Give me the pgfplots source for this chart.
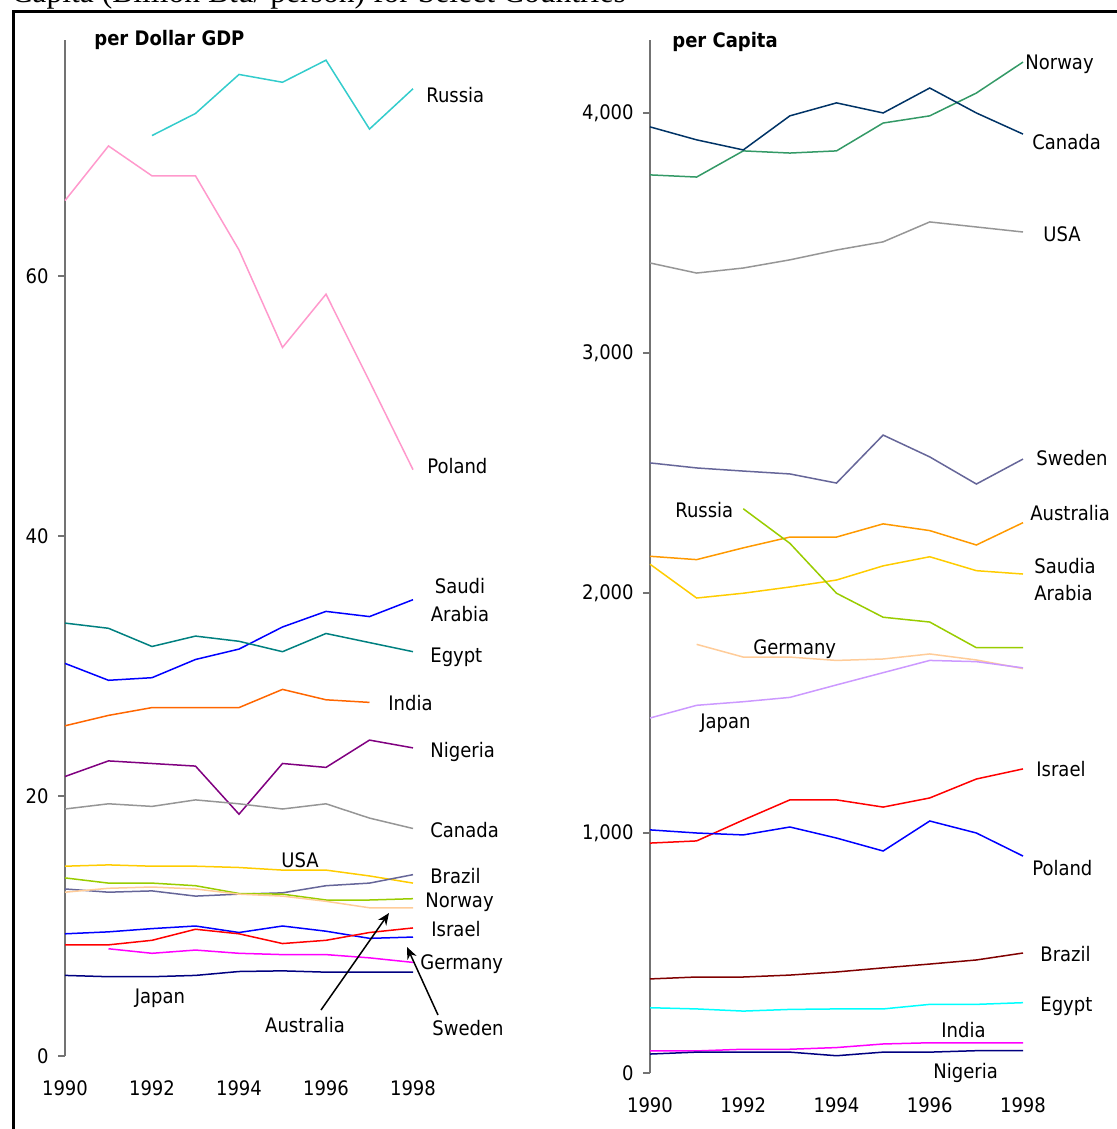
\documentclass[border=0pt]{standalone}
\usepackage{fontspec}
\setmainfont{DejaVu Sans Condensed}
\newfontfamily\ttl{Liberation Serif}
\usepackage{pgfplots}
\pgfplotsset{compat=1.18}
\usetikzlibrary{arrows.meta}

\definecolor{cCyan}{RGB}{0,255,255}
\definecolor{cMag}{RGB}{255,0,255}
\definecolor{cBlue}{RGB}{0,0,255}
\definecolor{cRed}{RGB}{255,0,0}

% 1 px of the reference = 0.5pt
\pgfplotsset{
  panel/.style={
    scale only axis, clip=false,
    xmin=1990, xmax=1998, ymin=0,
    axis lines*=left,
    x axis line style={draw=none},
    y axis line style={draw=black!55, line width=0.75pt},
    xtick={1990,1992,...,1998},
    xtick style={draw=none},
    ytick style={draw=black!55, line width=0.75pt},
    ytick align=outside, major tick length=3.5pt,
    x tick label style={anchor=base, yshift=-19.5pt, /pgf/number format/1000 sep={}},
    y tick label style={anchor=east, inner sep=0pt, xshift=-4.5pt},
    ticklabel style={font=\fontsize{10}{12}\selectfont},
    /pgf/number format/assume math mode=true,
    every axis plot/.append style={line width=0.75pt, mark=none},
  },
}
\tikzset{lab/.style={inner sep=0pt, text height=0.73em, text depth=0pt, font=\fontsize{10}{12}\selectfont}}

\begin{document}
\begin{tikzpicture}

% ---- per Dollar GDP ----
\begin{axis}[panel, at={(32.5pt,-528pt)}, anchor=origin,
  width=174pt, height=508pt, ymax=78.15, ytick={0,20,40,60}]
\addplot[color={rgb,255:red,51;green,204;blue,204}] coordinates {(1992,70.8)(1993,72.5)(1994,75.5)(1995,74.9)(1996,76.6)(1997,71.3)(1998,74.4)};
\addplot[color={rgb,255:red,255;green,153;blue,204}] coordinates {(1990,65.8)(1991,70.0)(1992,67.7)(1993,67.7)(1994,62.0)(1995,54.5)(1996,58.6)(1997,51.9)(1998,45.1)};
\addplot[color=cBlue] coordinates {(1990,30.2)(1991,28.9)(1992,29.1)(1993,30.5)(1994,31.3)(1995,33.0)(1996,34.2)(1997,33.8)(1998,35.1)};
\addplot[color={rgb,255:red,0;green,128;blue,128}] coordinates {(1990,33.3)(1991,32.9)(1992,31.5)(1993,32.3)(1994,31.9)(1995,31.1)(1996,32.5)(1997,31.8)(1998,31.1)};
\addplot[color={rgb,255:red,255;green,102;blue,0}] coordinates {(1990,25.4)(1991,26.2)(1992,26.8)(1993,26.8)(1994,26.8)(1995,28.2)(1996,27.4)(1997,27.2)};
\addplot[color={rgb,255:red,128;green,0;blue,128}] coordinates {(1990,21.5)(1991,22.7)(1992,22.5)(1993,22.3)(1994,18.6)(1995,22.5)(1996,22.2)(1997,24.3)(1998,23.7)};
\addplot[color={rgb,255:red,150;green,150;blue,150}] coordinates {(1990,19.0)(1991,19.4)(1992,19.2)(1993,19.7)(1994,19.4)(1995,19.0)(1996,19.4)(1997,18.3)(1998,17.5)};
\addplot[color={rgb,255:red,255;green,204;blue,0}] coordinates {(1990,14.6)(1991,14.7)(1992,14.6)(1993,14.6)(1994,14.5)(1995,14.3)(1996,14.3)(1997,13.85)(1998,13.3)};
\addplot[color={rgb,255:red,102;green,102;blue,153}] coordinates {(1990,12.85)(1991,12.6)(1992,12.7)(1993,12.3)(1994,12.45)(1995,12.55)(1996,13.1)(1997,13.3)(1998,13.95)};
\addplot[color={rgb,255:red,153;green,204;blue,0}] coordinates {(1990,13.7)(1991,13.3)(1992,13.3)(1993,13.1)(1994,12.5)(1995,12.45)(1996,12.0)(1997,12.0)(1998,12.1)};
\addplot[color={rgb,255:red,255;green,204;blue,153}] coordinates {(1990,12.6)(1991,12.9)(1992,13.0)(1993,12.85)(1994,12.45)(1995,12.3)(1996,11.9)(1997,11.4)(1998,11.4)};
\addplot[color=cBlue] coordinates {(1990,9.4)(1991,9.55)(1992,9.8)(1993,10.0)(1994,9.5)(1995,10.0)(1996,9.6)(1997,9.05)(1998,9.15)};
\addplot[color=cRed] coordinates {(1990,8.55)(1991,8.55)(1992,8.9)(1993,9.75)(1994,9.4)(1995,8.65)(1996,8.9)(1997,9.5)(1998,9.85)};
\addplot[color=cMag] coordinates {(1991,8.25)(1992,7.9)(1993,8.15)(1994,7.9)(1995,7.8)(1996,7.8)(1997,7.55)(1998,7.2)};
\addplot[color={rgb,255:red,0;green,0;blue,128}] coordinates {(1990,6.2)(1991,6.1)(1992,6.1)(1993,6.2)(1994,6.5)(1995,6.55)(1996,6.45)(1997,6.45)(1998,6.45)};
\end{axis}

% ---- per Capita ----
\begin{axis}[panel, at={(325pt,-536.5pt)}, anchor=origin,
  width=186.5pt, height=516.5pt, ymax=4304, ytick={0,1000,...,4000}]
\addplot[color={rgb,255:red,51;green,153;blue,102}] coordinates {(1990,3742)(1991,3733)(1992,3842)(1993,3833)(1994,3842)(1995,3958)(1996,3988)(1997,4083)(1998,4212)};
\addplot[color={rgb,255:red,0;green,51;blue,102}] coordinates {(1990,3942)(1991,3888)(1992,3846)(1993,3988)(1994,4042)(1995,4000)(1996,4104)(1997,4000)(1998,3912)};
\addplot[color={rgb,255:red,150;green,150;blue,150}] coordinates {(1990,3375)(1991,3333)(1992,3354)(1993,3388)(1994,3429)(1995,3463)(1996,3546)(1997,3525)(1998,3504)};
\addplot[color={rgb,255:red,102;green,102;blue,153}] coordinates {(1990,2542)(1991,2521)(1992,2508)(1993,2496)(1994,2458)(1995,2658)(1996,2567)(1997,2454)(1998,2558)};
\addplot[color={rgb,255:red,255;green,153;blue,0}] coordinates {(1990,2153)(1991,2139)(1992,2188)(1993,2233)(1994,2233)(1995,2288)(1996,2260)(1997,2200)(1998,2293)};
\addplot[color={rgb,255:red,255;green,204;blue,0}] coordinates {(1990,2120)(1991,1979)(1992,1999)(1993,2025)(1994,2054)(1995,2113)(1996,2151)(1997,2093)(1998,2079)};
\addplot[color={rgb,255:red,153;green,204;blue,0}] coordinates {(1992,2351)(1993,2207)(1994,1999)(1995,1899)(1996,1879)(1997,1772)(1998,1772)};
\addplot[color={rgb,255:red,255;green,204;blue,153}] coordinates {(1991,1786)(1992,1733)(1993,1733)(1994,1719)(1995,1725)(1996,1746)(1997,1721)(1998,1685)};
\addplot[color={rgb,255:red,204;green,153;blue,255}] coordinates {(1990,1479)(1991,1532)(1992,1547)(1993,1565)(1994,1617)(1995,1668)(1996,1719)(1997,1714)(1998,1688)};
\addplot[color=cRed] coordinates {(1990,958)(1991,967)(1992,1054)(1993,1138)(1994,1138)(1995,1108)(1996,1146)(1997,1225)(1998,1267)};
\addplot[color=cBlue] coordinates {(1990,1013)(1991,1000)(1992,992)(1993,1025)(1994,979)(1995,925)(1996,1050)(1997,1000)(1998,904)};
\addplot[color={rgb,255:red,128;green,0;blue,0}] coordinates {(1990,392)(1991,400)(1992,400)(1993,408)(1994,421)(1995,438)(1996,454)(1997,471)(1998,500)};
\addplot[color=cCyan] coordinates {(1990,272)(1991,267)(1992,258)(1993,265)(1994,267)(1995,267)(1996,286)(1997,286)(1998,293)};
\addplot[color=cMag] coordinates {(1990,92)(1991,92)(1992,99)(1993,99)(1994,106)(1995,121)(1996,126)(1997,126)(1998,126)};
\addplot[color={rgb,255:red,0;green,0;blue,128}] coordinates {(1990,79)(1991,87)(1992,87)(1993,87)(1994,72)(1995,87)(1996,87)(1997,93)(1998,93)};
\end{axis}

\begin{scope}[x=0.5pt, y=-0.5pt]
% frame and cut-off title
\draw[line width=1.5pt] (13,11.5) rectangle (1150,1150);
\node[anchor=base west, inner sep=0pt, font=\ttl\fontsize{15.8}{18}\selectfont] at (11,3) {Capita (Billion Btu/ person) for Select Countries};

% left panel labels
\node[lab, anchor=west, font=\bfseries\fontsize{10}{12}\selectfont] at (94,38) {per Dollar GDP};
\node[lab, anchor=west] at (426,95) {Russia};
\node[lab, anchor=west] at (427,466) {Poland};
\node[lab] at (460,586) {Saudi};
\node[lab] at (460,614) {Arabia};
\node[lab, anchor=west] at (430,655) {Egypt};
\node[lab, anchor=west] at (388,703) {India};
\node[lab, anchor=west] at (430,750) {Nigeria};
\node[lab, anchor=west] at (430,830) {Canada};
\node[lab] at (300,860) {USA};
\node[lab, anchor=west] at (430,876) {Brazil};
\node[lab, anchor=west] at (425,900) {Norway};
\node[lab, anchor=west] at (431,929) {Israel};
\node[lab, anchor=west] at (420,962) {Germany};
\node[lab] at (160,996) {Japan};
\node[lab] at (305,1025) {Australia};
\node[lab] at (468,1028) {Sweden};
\draw[line width=0.75pt, -{Stealth[length=6pt,width=5pt]}] (321,1010) -- (389,913);
\draw[line width=0.75pt, -{Stealth[length=6pt,width=5pt]}] (438,1015) -- (407,947);

% right panel labels
\node[lab, anchor=west, font=\bfseries\fontsize{10}{12}\selectfont] at (672,40) {per Capita};
\node[lab, anchor=west] at (1025,62) {Norway};
\node[lab, anchor=west] at (1032,142) {Canada};
\node[lab, anchor=west] at (1043,234) {USA};
\node[lab, anchor=west] at (1036,458) {Sweden};
\node[lab, anchor=west] at (675,510) {Russia};
\node[lab, anchor=west] at (1030,513) {Australia};
\node[lab, anchor=west] at (1034,566) {Saudia};
\node[lab, anchor=west] at (1034,593) {Arabia};
\node[lab, anchor=west] at (753,647) {Germany};
\node[lab, anchor=west] at (700,721) {Japan};
\node[lab, anchor=west] at (1036,769) {Israel};
\node[lab, anchor=west] at (1032,868) {Poland};
\node[lab, anchor=west] at (1040,954) {Brazil};
\node[lab, anchor=west] at (1040,1004) {Egypt};
\node[lab, anchor=west] at (941,1030) {India};
\node[lab, anchor=west] at (933,1071) {Nigeria};
\end{scope}

\pgfresetboundingbox
\useasboundingbox (0,0) rectangle (558.5pt,-564.5pt);
\end{tikzpicture}
\end{document}
